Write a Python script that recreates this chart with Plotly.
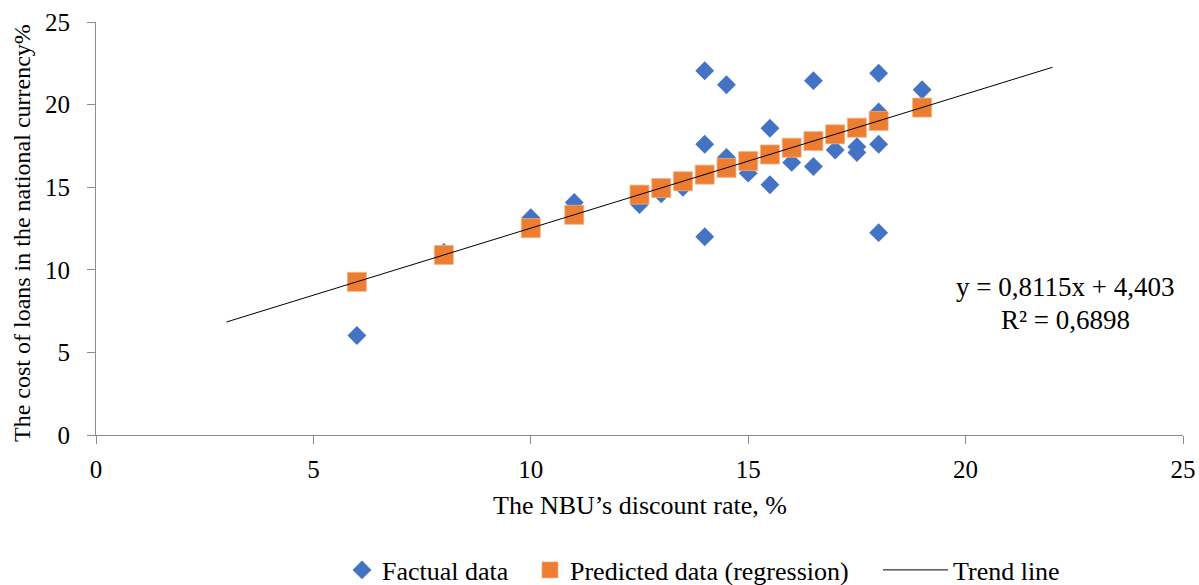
import plotly.graph_objects as go

# Factual data (NBU discount rate, loan cost)
fact_x = [6, 8, 10, 11, 12.5, 13, 13.5, 14, 14, 14, 14.5, 14.5, 15, 15.5, 15.5, 16,
          16.5, 16.5, 17, 17.5, 17.5, 18, 18, 18, 18, 19]
fact_y = [6.02, 11.05, 13.15, 14.08, 13.95, 14.6, 15.0, 22.05, 17.6, 12.0, 21.2, 16.8, 15.85,
          18.57, 15.15, 16.5, 21.45, 16.25, 17.25, 17.45, 17.1, 21.9, 19.55, 17.6, 12.25, 20.9]

# Predicted data (regression)
pred_x = [6, 8, 10, 11, 12.5, 13, 13.5, 14, 14.5, 15, 15.5, 16, 16.5, 17, 17.5, 18, 19]
pred_y = [9.27, 10.9, 12.52, 13.33, 14.55, 14.95, 15.36, 15.76, 16.17, 16.58, 16.98,
          17.39, 17.79, 18.2, 18.6, 19.01, 19.82]

# Trend line endpoints
trend_x = [3, 22]
trend_y = [6.84, 22.26]

tick_vals = [0, 5, 10, 15, 20, 25]

FONT = "Liberation Serif, Times New Roman, serif"
AXIS_COLOR = "#8c8c8c"

PLOT_W = 1087
PLOT_H = 413


def px_x(p):
    return (p - 96) / PLOT_W


def px_y(p):
    return (435 - p) / PLOT_H


fig = go.Figure()
fig.add_trace(go.Scatter(
    x=fact_x, y=fact_y, mode="markers", name="Factual data", legend="legend",
    marker=dict(symbol="diamond", size=14.5, color="#4472C4", line=dict(width=0)),
))
fig.add_trace(go.Scatter(
    x=pred_x, y=pred_y, mode="markers", name="Predicted data (regression)", legend="legend2",
    marker=dict(symbol="square", size=19, color="#ED7D31", line=dict(width=0.8, color="#F4B183")),
))
fig.add_trace(go.Scatter(
    x=trend_x, y=trend_y, mode="lines", name="Trend line", legend="legend3",
    line=dict(color="black", width=1),
))

eq_font = dict(family=FONT, size=27, color="black")
fig.add_annotation(x=22.29, y=8.96, xref="x", yref="y", text="y = 0,8115x + 4,403",
                   showarrow=False, xanchor="center", yanchor="middle", font=eq_font)
fig.add_annotation(x=22.29, y=6.96, xref="x", yref="y", text="R² = 0,6898",
                   showarrow=False, xanchor="center", yanchor="middle", font=eq_font)

# axis titles
fig.add_annotation(x=0.5, xref="paper", y=px_y(505), yref="paper",
                   text="The NBU’s discount rate, %", showarrow=False,
                   xanchor="center", yanchor="middle",
                   font=dict(family=FONT, size=26, color="black"))
fig.add_annotation(x=px_x(22), xref="paper", y=px_y(233), yref="paper",
                   text="The cost of loans in the national currency%", showarrow=False,
                   textangle=-90, xanchor="center", yanchor="middle",
                   font=dict(family=FONT, size=24, color="black"))

leg_font = dict(family=FONT, size=26, color="black")
leg_y = px_y(570)
fig.update_layout(
    width=1199, height=585,
    margin=dict(l=96, r=16, t=22, b=150, autoexpand=False),
    paper_bgcolor="white", plot_bgcolor="white",
    font=dict(family=FONT, size=25, color="black"),
    showlegend=True,
    legend=dict(orientation="h", x=px_x(342), xanchor="left", y=leg_y, yanchor="middle",
                font=leg_font, itemwidth=30, bgcolor="rgba(0,0,0,0)"),
    legend2=dict(orientation="h", x=px_x(530), xanchor="left", y=leg_y, yanchor="middle",
                 font=leg_font, itemwidth=30, bgcolor="rgba(0,0,0,0)"),
    legend3=dict(orientation="h", x=px_x(878), xanchor="left", y=leg_y, yanchor="middle",
                 font=leg_font, itemwidth=65, bgcolor="rgba(0,0,0,0)"),
    xaxis=dict(
        range=[0, 25], tickvals=tick_vals, showgrid=False, zeroline=False,
        showline=True, linecolor=AXIS_COLOR, linewidth=1,
        ticks="outside", ticklen=8, tickcolor=AXIS_COLOR, automargin=False,
        ticklabelstandoff=4,
        tickfont=dict(family=FONT, size=25, color="black"),
    ),
    yaxis=dict(
        range=[0, 25], tickvals=tick_vals, showgrid=False, zeroline=False,
        showline=True, linecolor=AXIS_COLOR, linewidth=1,
        ticks="outside", ticklen=8, tickcolor=AXIS_COLOR, automargin=False,
        ticklabelstandoff=12,
        tickfont=dict(family=FONT, size=25, color="black"),
    ),
)

fig.write_html("out.html", config={"displayModeBar": False},
               post_script="document.body.style.margin='0';document.body.style.overflow='hidden';")
